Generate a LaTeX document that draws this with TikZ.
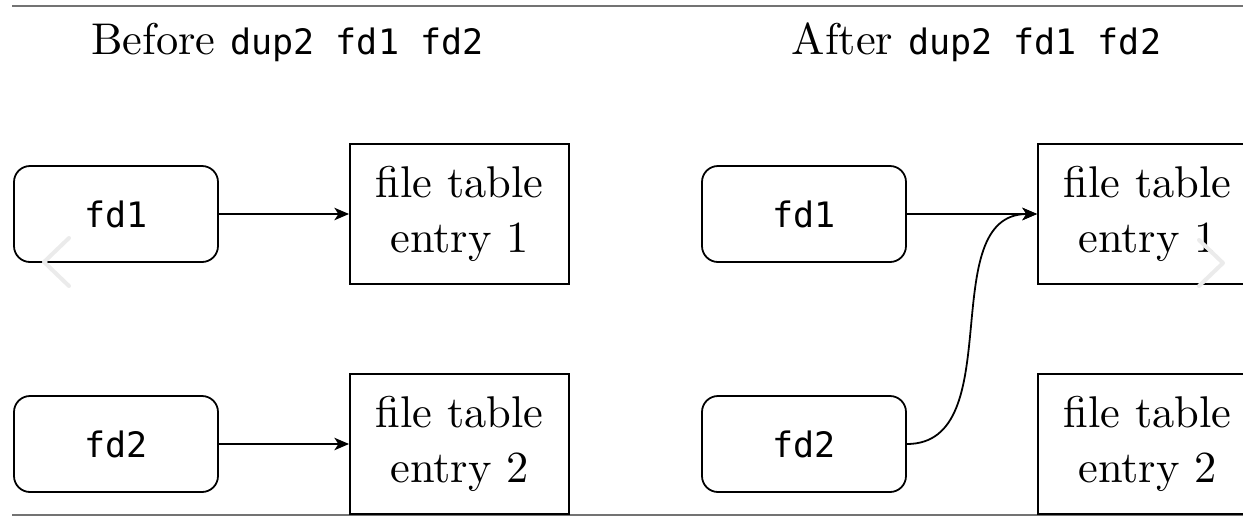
\documentclass[tikz,border=0pt]{standalone}
\usepackage{fontspec}
\setmonofont[Scale=MatchLowercase]{DejaVu Sans Mono}
\usetikzlibrary{arrows.meta}
\begin{document}
\begin{tikzpicture}[x=0.225pt,y=-0.225pt,
  fdbox/.style={draw, rounded corners=3.6pt, minimum width=45.9pt, minimum height=21.6pt, inner sep=0pt, font=\ttfamily},
  entrybox/.style={draw, minimum width=49.3pt, minimum height=31.5pt, inner sep=0pt, align=center, font=\fontsize{10}{12.4}\selectfont},
  title/.style={anchor=base, inner sep=0pt, font=\fontsize{10}{12}\selectfont},
  link/.style={-{Stealth[length=3.3pt,width=2.8pt,inset=0.9pt]}, line width=0.4pt},
  rulel/.style={draw=black!55, line width=0.35pt},
  chev/.style={draw=black!8, line width=0.9pt, line cap=round, line join=round}]
\useasboundingbox (0,0) rectangle (1243,518);
\clip (0,0) rectangle (1243,518);
% page rules
\coordinate (tl) at (12,6);
\coordinate (tr) at (1243,6);
\coordinate (bl) at (12,515);
\coordinate (br) at (1243,515);
\draw[rulel] (tl) -- (tr);
\draw[rulel] (bl) -- (br);
% titles
\node[title] (t1) at (287.5,54) {Before \texttt{dup2 fd1 fd2}};
\node[title] (t2) at (976.5,54) {After \texttt{dup2 fd1 fd2}};
% before
\node[fdbox] (a1) at (116,214) {fd1};
\node[fdbox] (a2) at (116,444) {fd2};
\node[entrybox] (e1) at (459.5,214) {file table\\entry 1};
\node[entrybox] (e2) at (459.5,444) {file table\\entry 2};
\draw[link] (a1.east) -- (e1.west);
\draw[link] (a2.east) -- (e2.west);
% after
\node[fdbox] (b1) at (804,214) {fd1};
\node[fdbox] (b2) at (804,444) {fd2};
\node[entrybox] (f1) at (1147.5,214) {file table\\entry 1};
\node[entrybox] (f2) at (1147.5,444) {file table\\entry 2};
\draw[link] (b1.east) -- (f1.west);
\draw[link] (b2.east) to[out=0,in=180] (f1.west);
% faint carousel chevrons
\coordinate (c1a) at (69,238);
\coordinate (c1b) at (44,262);
\coordinate (c1c) at (69,286);
\draw[chev] (c1a) -- (c1b) -- (c1c);
\coordinate (c2a) at (1199,240);
\coordinate (c2b) at (1223,263);
\coordinate (c2c) at (1199,286);
\draw[chev] (c2a) -- (c2b) -- (c2c);
\end{tikzpicture}
\end{document}
